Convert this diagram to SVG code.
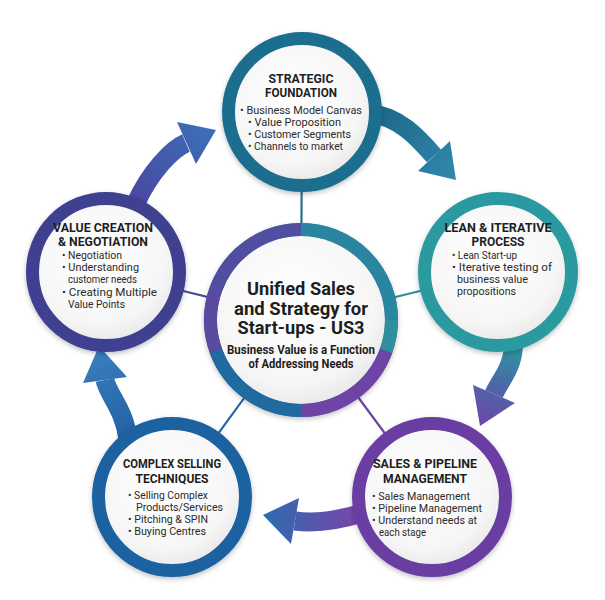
<svg xmlns="http://www.w3.org/2000/svg" width="605" height="600" viewBox="0 0 605 600">
<style>
.h{font-family:Roboto,"Liberation Sans",sans-serif;font-weight:700;font-size:12px;fill:#1e1e1e;text-anchor:middle}
.b{font-family:Roboto,"Liberation Sans",sans-serif;font-size:11px;fill:#2a2a2a}
.t{font-family:Roboto,"Liberation Sans",sans-serif;font-weight:700;font-size:19px;fill:#1e1e1e;text-anchor:middle}
.s{font-family:Roboto,"Liberation Sans",sans-serif;font-weight:700;font-size:12.5px;fill:#1e1e1e;text-anchor:middle}
.disc{fill:url(#fillg);stroke-width:13;filter:url(#sh)}
.spoke{stroke-width:2.2;fill:none}
.shaft{fill:none;stroke-width:19}
.seg{fill:none;stroke-width:13}
</style>
<defs>
<radialGradient id="fillg" cx="0.45" cy="0.4" r="0.65">
<stop offset="0" stop-color="#ffffff"/>
<stop offset="0.7" stop-color="#f6f6f6"/>
<stop offset="1" stop-color="#e2e2e2"/>
</radialGradient>
<filter id="sh" x="-20%" y="-20%" width="140%" height="140%">
<feDropShadow dx="0" dy="2" stdDeviation="2.5" flood-color="#000" flood-opacity="0.25"/>
</filter>
<linearGradient id="g1" gradientUnits="userSpaceOnUse" x1="372" y1="113" x2="457" y2="180">
<stop offset="0" stop-color="#1d6688"/><stop offset="1" stop-color="#3189ae"/>
</linearGradient>
<linearGradient id="g2" gradientUnits="userSpaceOnUse" x1="513" y1="340" x2="480" y2="425">
<stop offset="0" stop-color="#2a9aa0"/><stop offset="0.5" stop-color="#4a6aa8"/><stop offset="1" stop-color="#6d45a8"/>
</linearGradient>
<linearGradient id="g3" gradientUnits="userSpaceOnUse" x1="360" y1="514" x2="262" y2="515">
<stop offset="0" stop-color="#7b45aa"/><stop offset="1" stop-color="#2a6db0"/>
</linearGradient>
<linearGradient id="g4" gradientUnits="userSpaceOnUse" x1="128" y1="440" x2="99" y2="346">
<stop offset="0" stop-color="#2360a3"/><stop offset="1" stop-color="#3a80c0"/>
</linearGradient>
<linearGradient id="g5" gradientUnits="userSpaceOnUse" x1="136" y1="203" x2="216" y2="130">
<stop offset="0" stop-color="#4a48a0"/><stop offset="1" stop-color="#3c70b8"/>
</linearGradient>
</defs>

<g id="connectors">
<line class="spoke" x1="301" y1="320" x2="302" y2="112" stroke="#2a6f8c"/>
<line class="spoke" x1="301" y1="320" x2="498" y2="272" stroke="#2a8e9c"/>
<line class="spoke" x1="301" y1="320" x2="432" y2="497" stroke="#6a45a5"/>
<line class="spoke" x1="301" y1="320" x2="172" y2="497" stroke="#2466a0"/>
<line class="spoke" x1="301" y1="320" x2="106" y2="272" stroke="#4a4a9c"/>

<path class="shaft" stroke="url(#g1)" d="M368,113 C400,116 420,140 434,156"/>
<polygon fill="url(#g1)" points="450,141 456,180 418,171"/>

<path class="shaft" stroke="url(#g2)" d="M513,338 C516,365 500,380 494,394"/>
<polygon fill="url(#g2)" points="473,385 480,426 515,403"/>

<path class="shaft" stroke="url(#g3)" d="M366,512 C340,520 315,524 295,521"/>
<polygon fill="url(#g3)" points="299,498 263,515 291,544"/>

<path class="shaft" stroke="url(#g4)" d="M128,440 C125,410 108,395 105,380"/>
<polygon fill="url(#g4)" points="83,383 99,346 127,377"/>

<path class="shaft" stroke="url(#g5)" d="M136,203 C150,172 172,149 186,143"/>
<polygon fill="url(#g5)" points="177,122 216,130 196,164"/>
</g>

<g id="strategic-foundation">
<circle class="disc" cx="302" cy="112" r="73.5" stroke="#1f6e8e"/>
<text class="h" x="301" y="83" textLength="65" lengthAdjust="spacingAndGlyphs">STRATEGIC</text>
<text class="h" x="301" y="97" textLength="72" lengthAdjust="spacingAndGlyphs">FOUNDATION</text>
<text class="b" x="240" y="114" textLength="122" lengthAdjust="spacingAndGlyphs">• Business Model Canvas</text>
<text class="b" x="248" y="126" textLength="93" lengthAdjust="spacingAndGlyphs">• Value Proposition</text>
<text class="b" x="248" y="138" textLength="103" lengthAdjust="spacingAndGlyphs">• Customer Segments</text>
<text class="b" x="248" y="150" textLength="95" lengthAdjust="spacingAndGlyphs">• Channels to market</text>
</g>

<g id="lean-iterative">
<circle class="disc" cx="498" cy="272" r="73.5" stroke="#2a9aa0"/>
<text class="h" x="498" y="232" textLength="107" lengthAdjust="spacingAndGlyphs">LEAN &amp; ITERATIVE</text>
<text class="h" x="498" y="246" textLength="53" lengthAdjust="spacingAndGlyphs">PROCESS</text>
<text class="b" x="452" y="259" textLength="65" lengthAdjust="spacingAndGlyphs">• Lean Start-up</text>
<text class="b" x="452" y="271" textLength="100" lengthAdjust="spacingAndGlyphs">• Iterative testing of</text>
<text class="b" x="457" y="283" textLength="71" lengthAdjust="spacingAndGlyphs">business value</text>
<text class="b" x="457" y="295" textLength="59" lengthAdjust="spacingAndGlyphs">propositions</text>
</g>

<g id="sales-pipeline">
<circle class="disc" cx="432" cy="497" r="73.5" stroke="#6a3ea3"/>
<text class="h" x="425" y="468" textLength="104" lengthAdjust="spacingAndGlyphs">SALES &amp; PIPELINE</text>
<text class="h" x="425" y="483" textLength="84" lengthAdjust="spacingAndGlyphs">MANAGEMENT</text>
<text class="b" x="372" y="500" textLength="98" lengthAdjust="spacingAndGlyphs">• Sales Management</text>
<text class="b" x="372" y="512" textLength="110" lengthAdjust="spacingAndGlyphs">• Pipeline Management</text>
<text class="b" x="372" y="524" textLength="105" lengthAdjust="spacingAndGlyphs">• Understand needs at</text>
<text class="b" x="379" y="536" textLength="47" lengthAdjust="spacingAndGlyphs">each stage</text>
</g>

<g id="complex-selling">
<circle class="disc" cx="172" cy="497" r="73.5" stroke="#1d62a0"/>
<text class="h" x="172" y="468" textLength="98" lengthAdjust="spacingAndGlyphs">COMPLEX SELLING</text>
<text class="h" x="172" y="483" textLength="73" lengthAdjust="spacingAndGlyphs">TECHNIQUES</text>
<text class="b" x="128" y="499" textLength="80" lengthAdjust="spacingAndGlyphs">• Selling Complex</text>
<text class="b" x="136" y="511" textLength="87" lengthAdjust="spacingAndGlyphs">Products/Services</text>
<text class="b" x="128" y="523" textLength="80" lengthAdjust="spacingAndGlyphs">• Pitching &amp; SPIN</text>
<text class="b" x="128" y="535" textLength="78" lengthAdjust="spacingAndGlyphs">• Buying Centres</text>
</g>

<g id="value-creation">
<circle class="disc" cx="106" cy="272" r="73.5" stroke="#3f4190"/>
<text class="h" x="103" y="232" textLength="100" lengthAdjust="spacingAndGlyphs">VALUE CREATION</text>
<text class="h" x="103" y="246" textLength="90" lengthAdjust="spacingAndGlyphs">&amp; NEGOTIATION</text>
<text class="b" x="62" y="259" textLength="60" lengthAdjust="spacingAndGlyphs">• Negotiation</text>
<text class="b" x="62" y="271" textLength="77" lengthAdjust="spacingAndGlyphs">• Understanding</text>
<text class="b" x="68" y="283" textLength="69" lengthAdjust="spacingAndGlyphs">customer needs</text>
<text class="b" x="62" y="296" textLength="95" lengthAdjust="spacingAndGlyphs">• Creating Multiple</text>
<text class="b" x="68" y="308" textLength="57" lengthAdjust="spacingAndGlyphs">Value Points</text>
</g>

<g id="center">
<circle cx="301" cy="320" r="90.5" fill="url(#fillg)" stroke="#3a6fa0" stroke-width="13" filter="url(#sh)"/>
<path class="seg" stroke="#4f4ea0" d="M215.96,289.05 A90.5,90.5 0 0 1 301,229.5"/>
<path class="seg" stroke="#2a86a0" d="M301,229.5 A90.5,90.5 0 0 1 391.5,320"/>
<path class="seg" stroke="#2f8f9e" d="M391.5,320 A90.5,90.5 0 0 1 386.04,350.95"/>
<path class="seg" stroke="#6e45a6" d="M386.04,350.95 A90.5,90.5 0 0 1 301,410.5"/>
<path class="seg" stroke="#1f6a9f" d="M301,410.5 A90.5,90.5 0 0 1 215.96,350.95"/>
<path class="seg" stroke="#5a4ba0" d="M215.96,350.95 A90.5,90.5 0 0 1 215.96,289.05"/>
<text class="t" x="301" y="295" textLength="108" lengthAdjust="spacingAndGlyphs">Unified Sales</text>
<text class="t" x="301" y="315" textLength="134" lengthAdjust="spacingAndGlyphs">and Strategy for</text>
<text class="t" x="301" y="334" textLength="127" lengthAdjust="spacingAndGlyphs">Start-ups - US3</text>
<text class="s" x="301" y="354" textLength="148" lengthAdjust="spacingAndGlyphs">Business Value is a Function</text>
<text class="s" x="301" y="368" textLength="105" lengthAdjust="spacingAndGlyphs">of Addressing Needs</text>
</g>
</svg>
